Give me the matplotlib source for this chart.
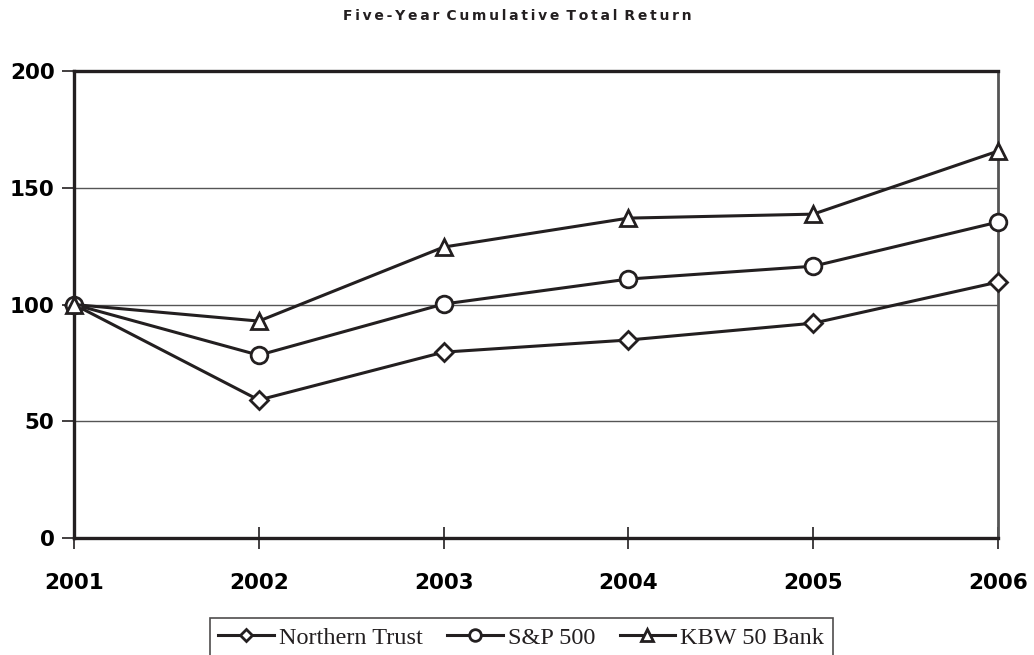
import numpy as np
import matplotlib
matplotlib.use("Agg")
from matplotlib import pyplot as plt

# Five-year cumulative total return
years = [2001, 2002, 2003, 2004, 2005, 2006]
northern_trust = [100, 59.1, 79.6, 84.8, 92.0, 109.6]
sp500 = [100, 78.3, 100.2, 110.9, 116.4, 135.3]
kbw50 = [100, 92.9, 124.6, 137.0, 138.7, 165.7]
y_ticks = [0, 50, 100, 150, 200]
title = "Five-Year Cumulative Total Return"

series = [
    ("Northern Trust", northern_trust, "D", 9),
    ("S&P 500", sp500, "o", 12),
    ("KBW 50 Bank", kbw50, "^", 12),
]

ink = "#231f20"
tick_font = dict(family="DejaVu Sans", weight="bold", size=15.5)

fig = plt.figure(figsize=(10.34, 6.55), dpi=100)
ax = fig.add_axes([0.0716, 0.1786, 0.8936, 0.713])

for yv in y_ticks[1:-1]:
    ax.axhline(yv, color="#555555", linewidth=1.0, zorder=1)

handles = []
for name, vals, mk, ms in series:
    h, = ax.plot(years, vals, color=ink, linewidth=2.2, marker=mk, markersize=ms,
                 markerfacecolor="white", markeredgecolor=ink, markeredgewidth=2,
                 label=name, zorder=3, clip_on=False)
    handles.append(h)

ax.set_xlim(2001, 2006)
ax.set_ylim(0, 200)
ax.set_xticks(years)
ax.set_yticks(y_ticks)
ax.set_xticklabels([str(y) for y in years], fontdict=tick_font)
ax.set_yticklabels([str(y) for y in y_ticks], fontdict=tick_font)
ax.tick_params(axis="y", direction="out", length=9, width=1.2, color=ink, pad=5)
ax.tick_params(axis="x", direction="inout", length=16, width=1.2, color=ink, pad=17)

for side in ["left", "bottom", "top"]:
    ax.spines[side].set_linewidth(2.4)
    ax.spines[side].set_color(ink)
ax.spines["right"].set_linewidth(2.0)
ax.spines["right"].set_color("#555555")

# letter-spaced title
spaced = "\u2009".join(title).replace("\u2009 \u2009", "\u2002")
fig.text(0.5, 0.976, spaced, ha="center", va="center", fontsize=10,
         weight="bold", color=ink, family="DejaVu Sans")

leg = fig.legend(handles=handles, loc="lower center", bbox_to_anchor=(0.504, -0.022),
                 ncol=3, frameon=True, fancybox=False, edgecolor=ink,
                 prop=dict(family="Liberation Serif", size=17.5),
                 handlelength=2.3, columnspacing=1.0, handletextpad=0.2,
                 borderpad=0.35, markerscale=0.7)
leg.get_frame().set_linewidth(1.2)
for t in leg.get_texts():
    t.set_color(ink)

fig.savefig("out.png", dpi=100)
